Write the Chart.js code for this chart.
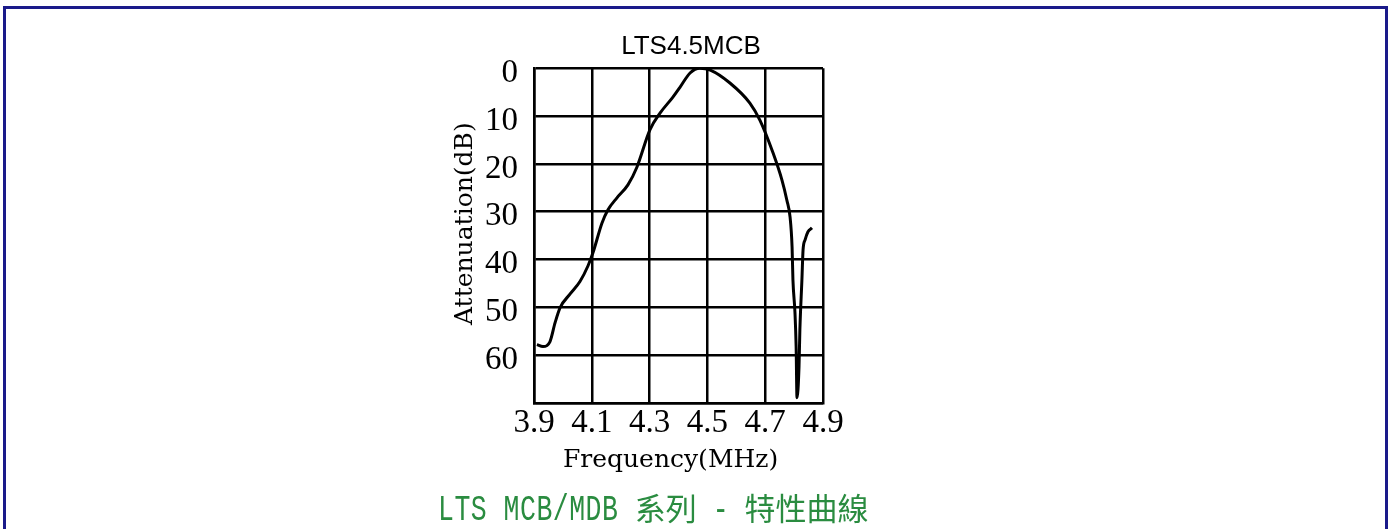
<!DOCTYPE html>
<html>
<head>
<meta charset="utf-8">
<script src="https://cdn.jsdelivr.net/npm/chart.js@4.4.1/dist/chart.umd.min.js"></script>
<style>
  html, body { margin: 0; padding: 0; background: #fff; width: 1391px; height: 529px; overflow: hidden; }
  #frame { position: absolute; left: 3px; top: 6px; width: 1385px; height: 600px; box-sizing: border-box;
           border: 3px solid #1a1a8a; border-bottom: none; }
  #wrap { position: absolute; left: 0; top: 0; width: 1391px; height: 529px; }
  #cap { position: absolute; left: 438px; top: 489px; white-space: nowrap; color: #2a8c40; line-height: 36px; }
  #cap .lat { display: inline-block; font-family: 'Liberation Mono', monospace; font-size: 26.5px; letter-spacing: 0.5px;
              transform: scaleY(1.42); transform-origin: 50% 72%; white-space: pre; }
  #cap .sep { letter-spacing: 0; }
  #cap .cjk { font-family: 'Noto Sans CJK TC', sans-serif; font-size: 31px; letter-spacing: 0; }
</style>
</head>
<body>
<div id="frame"></div>
<div id="wrap"><canvas id="c" width="1391" height="529"></canvas></div>
<div id="cap"><span class="lat">LTS MCB/MDB </span><span class="cjk">系列</span><span class="lat sep"> - </span><span class="cjk">特性曲線</span></div>
<script>
// ---- data ----
const chartTitle = 'LTS4.5MCB';
const xAxisTitle = 'Frequency(MHz)  ';
const yAxisTitle = '   Attenuation(dB)';

const frequencyMHz = [
  3.910, 3.931, 3.955, 3.973, 3.990, 4.025, 4.059, 4.087, 4.104, 4.135,
  4.156, 4.187, 4.225, 4.256, 4.301, 4.336, 4.380, 4.405, 4.440, 4.474,
  4.510, 4.578, 4.647, 4.682, 4.727, 4.758, 4.775, 4.786, 4.793, 4.796,
  4.803, 4.807, 4.810, 4.817, 4.820, 4.827, 4.831, 4.838, 4.848, 4.862
];
const attenuationDb = [
  57.8, 58.2, 57.2, 53.2, 50.1, 47.2, 44.6, 41.3, 38.6, 32.4,
  29.6, 27.1, 24.4, 20.7, 12.9,  9.4,  6.1,  4.0,  1.0,  0.0,
   0.4,  3.1,  7.3, 10.9, 17.7, 23.4, 27.6, 31.1, 37.4, 44.3,
  51.1, 58.2, 68.9, 62.4, 54.7, 44.3, 38.0, 35.9, 34.2, 33.4
];

const xTickValues = [3.9, 4.1, 4.3, 4.5, 4.7, 4.9];
const xTickLabels = ['3.9', '4.1', '4.3', '4.5', '4.7', '4.9'];
const yTickValues = [0, 10, 20, 30, 40, 50, 60, 70];
const yTickLabels = ['0', '10', '20', '30', '40', '50', '60', ''];

// ---- chart ----
const points = frequencyMHz.map((f, i) => ({ x: f, y: attenuationDb[i] }));

new Chart(document.getElementById('c'), {
  type: 'line',
  data: {
    datasets: [{
      data: points,
      borderColor: '#000',
      borderWidth: 3,
      pointRadius: 0,
      fill: false,
      cubicInterpolationMode: 'monotone'
    }]
  },
  options: {
    responsive: false,
    animation: false,
    layout: { padding: { left: 0, right: 9, top: 0, bottom: 51 } },
    plugins: {
      legend: { display: false },
      tooltip: { enabled: false },
      title: {
        display: true,
        text: chartTitle,
        color: '#000',
        font: { family: "'Liberation Sans', Arial, sans-serif", size: 26, weight: 'normal' },
        padding: { top: 31, bottom: 6 }
      }
    },
    scales: {
      x: {
        type: 'linear',
        min: 3.9, max: 4.9,
        afterBuildTicks: (s) => { s.ticks = xTickValues.map(v => ({ value: v })); },
        afterFit: (s) => { s.height = 75; },
        grid: { color: '#000', lineWidth: 2.5, drawTicks: false },
        border: { color: '#000', width: 2.5 },
        ticks: {
          color: '#000', padding: 1, maxRotation: 0, autoSkip: false,
          font: { family: "'Liberation Serif', 'Times New Roman', serif", size: 33 },
          callback: (v, i) => xTickLabels[i]
        },
        title: {
          display: true, text: xAxisTitle, color: '#000',
          font: { family: "'DejaVu Serif', serif", size: 25 },
          padding: { top: 0, bottom: 3 }
        }
      },
      y: {
        type: 'linear',
        reverse: true,
        min: 0, max: 70,
        afterBuildTicks: (s) => { s.ticks = yTickValues.map(v => ({ value: v })); },
        afterFit: (s) => { s.width = 534; },
        grid: { color: '#000', lineWidth: 2.5, drawTicks: false },
        border: { color: '#000', width: 2.5 },
        ticks: {
          color: '#000', padding: 16, autoSkip: false, labelOffset: 5,
          font: { family: "'Liberation Serif', 'Times New Roman', serif", size: 33 },
          callback: (v, i) => yTickLabels[i]
        },
        title: {
          display: true, text: yAxisTitle, color: '#000',
          font: { family: "'DejaVu Serif', serif", size: 25 },
          padding: { top: 450, bottom: 0 }
        }
      },
      spacer: {
        type: 'linear',
        position: 'right',
        display: true,
        afterFit: (s) => { s.width = 559; },
        grid: { display: false, drawTicks: false },
        border: { display: false },
        ticks: { display: false }
      }
    }
  }
});
</script>
</body>
</html>
